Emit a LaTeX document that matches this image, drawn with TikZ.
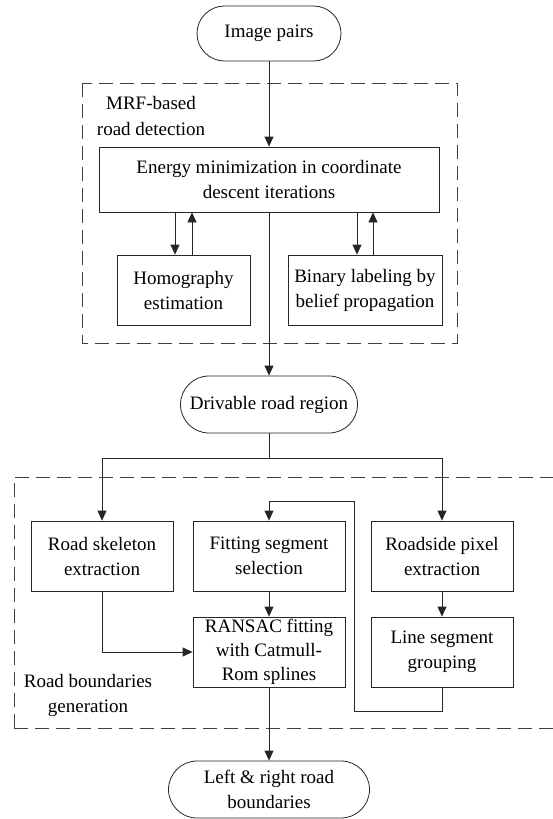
\documentclass[tikz,border=0pt]{standalone}
\usepackage{fontspec}
\setmainfont{Liberation Serif}
\newfontfamily\tnr{Liberation Serif}
\usetikzlibrary{shapes.misc,arrows.meta,calc}
\begin{document}
\begin{tikzpicture}[x=1pt,y=-1pt,
  font=\tnr\fontsize{19}{25}\selectfont,
  every node/.style={inner sep=2pt, align=center},
  box/.style={draw=black!85, line width=0.8pt, rectangle},
  term/.style={draw=black!85, line width=0.8pt, rounded rectangle},
  lbl/.style={align=center},
  arr/.style={draw=black!85, line width=0.8pt, -{Triangle[length=10pt,width=9pt]}},
  ln/.style={draw=black!85, line width=0.8pt},
  grp/.style={draw=black!75, line width=0.8pt, dash pattern=on 14pt off 7pt}]
\useasboundingbox (0,0) rectangle (553,819);
% group frames
\draw[grp] (82,83) rectangle (457,343);
\draw[grp] (14,728) -- (14,477) -- (575,477);
\draw[grp] (14,728) -- (575,728);
\node[lbl] (mrf) at (151,116) {MRF-based\\road detection};
\node[lbl] (rbg) at (88,695) {Road boundaries\\generation};
% nodes
\node[term, minimum width=148pt, minimum height=55pt] (img) at (269,33.5) {Image pairs};
\node[box, minimum width=340pt, minimum height=65pt] (energy) at (269,179.5) {Energy minimization in coordinate\\descent iterations};
\node[box, minimum width=133pt, minimum height=70pt] (homog) at (183.5,290) {Homography\\estimation};
\node[box, minimum width=154pt, minimum height=70pt] (binary) at (365,290) {Binary labeling by\\belief propagation};
\node[term, minimum width=181pt, minimum height=57pt] (driv) at (269,404.5) {Drivable road region};
\node[box, minimum width=142pt, minimum height=70pt] (skel) at (102,556) {Road skeleton\\extraction};
\node[box, minimum width=152pt, minimum height=70pt] (fit) at (269,556) {Fitting segment\\selection};
\node[box, minimum width=142pt, minimum height=70pt] (rside) at (442,556) {Roadside pixel\\extraction};
\node[box, minimum width=152pt, minimum height=70pt, font=\tnr\fontsize{19}{24}\selectfont] (ransac) at (269,652) {RANSAC fitting\\with Catmull-\\Rom splines};
\node[box, minimum width=142pt, minimum height=70pt] (lseg) at (442,652) {Line segment\\grouping};
\node[term, minimum width=205pt, minimum height=57pt] (out) at (269,789.5) {Left \& right road\\boundaries};
% helper coordinates
\coordinate (split) at (269,458);
\coordinate (lp1) at (354,711);
\coordinate (lp2) at (354,501);
% connectors
\draw[arr] (img.south) -- (img.south |- energy.north);
\draw[arr] ([xshift=-8.5pt]homog.north |- energy.south) -- ([xshift=-8.5pt]homog.north);
\draw[arr] ([xshift=8.5pt]homog.north) -- ([xshift=8.5pt]homog.north |- energy.south);
\draw[arr] ([xshift=-8pt]binary.north |- energy.south) -- ([xshift=-8pt]binary.north);
\draw[arr] ([xshift=8pt]binary.north) -- ([xshift=8pt]binary.north |- energy.south);
\draw[arr] (energy.south -| img.south) -- (img.south |- driv.north);
\draw[ln] (driv.south) -- (split);
\draw[arr] (split) -| (skel.north);
\draw[arr] (split) -| (rside.north);
\draw[arr] (fit.south) -- (ransac.north);
\draw[arr] (rside.south) -- (lseg.north);
\draw[arr] (skel.south) |- (ransac.west);
\draw[arr] (lseg.south) |- (lp1) -- (lp2) -| (fit.north);
\draw[arr] (ransac.south) -- (ransac.south |- out.north);
\end{tikzpicture}
\end{document}
